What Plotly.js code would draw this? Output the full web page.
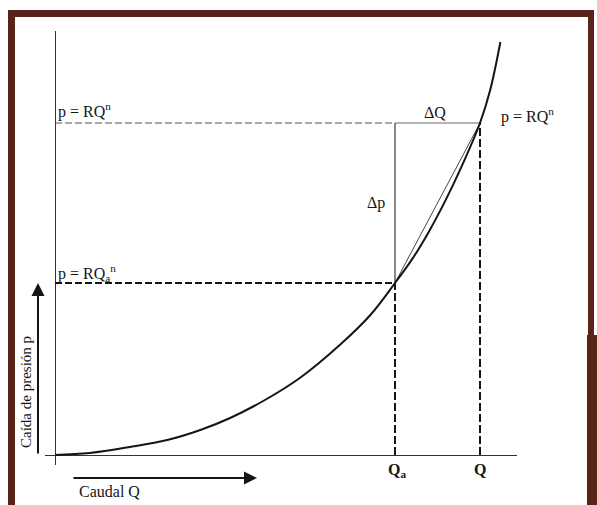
<!DOCTYPE html>
<html><head><meta charset="utf-8">
<script src="https://cdn.plot.ly/plotly-3.0.1.min.js"></script>
<style>
html,body{margin:0;padding:0;background:#fff;}
#wrap{position:relative;width:597px;height:505px;overflow:hidden;background:#fff;}
#chart{position:absolute;left:0;top:0;width:597px;height:505px;}
.fr{position:absolute;background:#58241a;z-index:10;pointer-events:none;}
</style></head><body>
<div id="wrap">
<div id="chart"></div>
<div class="fr" style="left:8px;top:10px;width:586px;height:7px"></div>
<div class="fr" style="left:8px;top:10px;width:7px;height:495px"></div>
<div class="fr" style="left:588px;top:10px;width:6px;height:326px"></div>
<div class="fr" style="left:587px;top:335px;width:10px;height:170px"></div>
</div>
<script>
// Curve p = R Q^n (Q units, p units)
const curveQ = [0, 0.41, 0.88, 1.32, 1.71, 2.06, 2.47, 2.88, 3.35, 3.71, 4.0, 4.2, 4.4, 4.6, 4.8, 5.0, 5.12, 5.24];
const curveP = [0, 0.05, 0.2, 0.375, 0.625, 0.925, 1.375, 1.925, 2.75, 3.5, 4.3, 4.89, 5.59, 6.39, 7.29, 8.3, 9.125, 10.325];
// Key operating points
const flows = [4.0, 5.0];        // Qa, Q
const pressures = [4.3, 8.3];    // pa, p
const flowLabels = ['Q<sub>a</sub>', 'Q'];
const pressureLabels = ['p = RQ<sub>a</sub><sup>n</sup>', 'p = RQ<sup>n</sup>'];

const Qa = flows[0], Q = flows[1], pa = pressures[0], p = pressures[1];

const L = 45, R = 80, T = 31, B = 40, W = 597, H = 505;
const PW = W - L - R, PH = H - T - B;
const X = px => (px - L) / PW;
const Y = py => (H - B - py) / PH;

const ink = '#151515';
const serif = 'Liberation Serif, Times New Roman, serif';

function seg(xs, ys, color, width, dash) {
  return {x: xs, y: ys, mode: 'lines', type: 'scatter', hoverinfo: 'skip',
          line: {color: color, width: width, dash: dash || 'solid'}, showlegend: false};
}

const traces = [
  seg([0, Qa], [p, p], '#555', 1, '7px,3px'),
  seg([Qa, Q], [p, p], '#9a9a9a', 1.5),
  seg([Qa, Qa], [pa, p], ink, 1),
  seg([0, Qa], [pa, pa], ink, 2, '7px,3px'),
  seg([Qa, Qa], [0, pa], ink, 2, '8px,3px'),
  seg([Q, Q], [0, p], ink, 2, '8px,3px'),
  seg([Qa, Q], [pa, p], '#444', 1),
  {x: curveQ, y: curveP, mode: 'lines', type: 'scatter', hoverinfo: 'skip', showlegend: false,
   line: {color: ink, width: 2, shape: 'spline', smoothing: 1}}
];

const f = (s, extra) => Object.assign({family: serif, size: s, color: ink}, extra || {});

const annotations = [
  {x: 0, y: p, xref: 'x', yref: 'y', text: pressureLabels[1], showarrow: false,
   xanchor: 'left', yanchor: 'bottom', xshift: 1, yshift: 0, font: f(16)},
  {x: Q, y: p, xref: 'x', yref: 'y', text: pressureLabels[1], showarrow: false,
   xanchor: 'left', yanchor: 'bottom', xshift: 19, yshift: -5, font: f(16)},
  {x: 0, y: pa, xref: 'x', yref: 'y', text: pressureLabels[0], showarrow: false,
   xanchor: 'left', yanchor: 'bottom', xshift: 1, yshift: -3, font: f(16)},
  {x: (Qa + Q) / 2, y: p, xref: 'x', yref: 'y', text: 'ΔQ', showarrow: false,
   xanchor: 'center', yanchor: 'bottom', xshift: -3, yshift: 0, font: f(16)},
  {x: Qa, y: (pa + p) / 2, xref: 'x', yref: 'y', text: 'Δp', showarrow: false,
   xanchor: 'right', yanchor: 'middle', xshift: -8, font: f(16)},
  {x: Qa, y: 0, xref: 'x', yref: 'y', text: '<b>' + flowLabels[0] + '</b>', showarrow: false,
   xanchor: 'center', yanchor: 'top', xshift: 2, yshift: -4, font: f(16)},
  {x: Q, y: 0, xref: 'x', yref: 'y', text: '<b>' + flowLabels[1] + '</b>', showarrow: false,
   xanchor: 'center', yanchor: 'top', xshift: 0, yshift: -4, font: f(16)},
  {x: X(77), y: Y(491), xref: 'paper', yref: 'paper', text: 'Caudal Q', showarrow: false,
   xanchor: 'left', yanchor: 'middle', font: f(16)},
  {x: X(26), y: Y(392), xref: 'paper', yref: 'paper', text: 'Caída de presión p', showarrow: false,
   textangle: -90, xanchor: 'center', yanchor: 'middle', font: f(15)},
  {x: X(38), y: Y(283), xref: 'paper', yref: 'paper', text: '', showarrow: true,
   ax: 0, ay: 172, arrowhead: 2, arrowsize: 1.3, arrowwidth: 2, arrowcolor: ink, standoff: 0},
  {x: X(257), y: Y(478), xref: 'paper', yref: 'paper', text: '', showarrow: true,
   ax: -185, ay: 0, arrowhead: 2, arrowsize: 1.3, arrowwidth: 2, arrowcolor: ink, standoff: 0}
];

const layout = {
  width: W, height: H,
  margin: {l: L, r: R, t: T, b: B, pad: 0},
  paper_bgcolor: 'rgba(0,0,0,0)', plot_bgcolor: 'rgba(0,0,0,0)',
  showlegend: false,
  xaxis: {range: [-10 / 85, 462 / 85], showgrid: false, zeroline: true, zerolinecolor: '#333',
          zerolinewidth: 1, showticklabels: false, ticks: '', showline: false, fixedrange: true},
  yaxis: {range: [-0.25, 10.6], showgrid: false, zeroline: true, zerolinecolor: '#333',
          zerolinewidth: 1, showticklabels: false, ticks: '', showline: false, fixedrange: true},
  annotations: annotations
};

Plotly.newPlot('chart', traces, layout, {displayModeBar: false, staticPlot: true});
</script>
</body></html>
